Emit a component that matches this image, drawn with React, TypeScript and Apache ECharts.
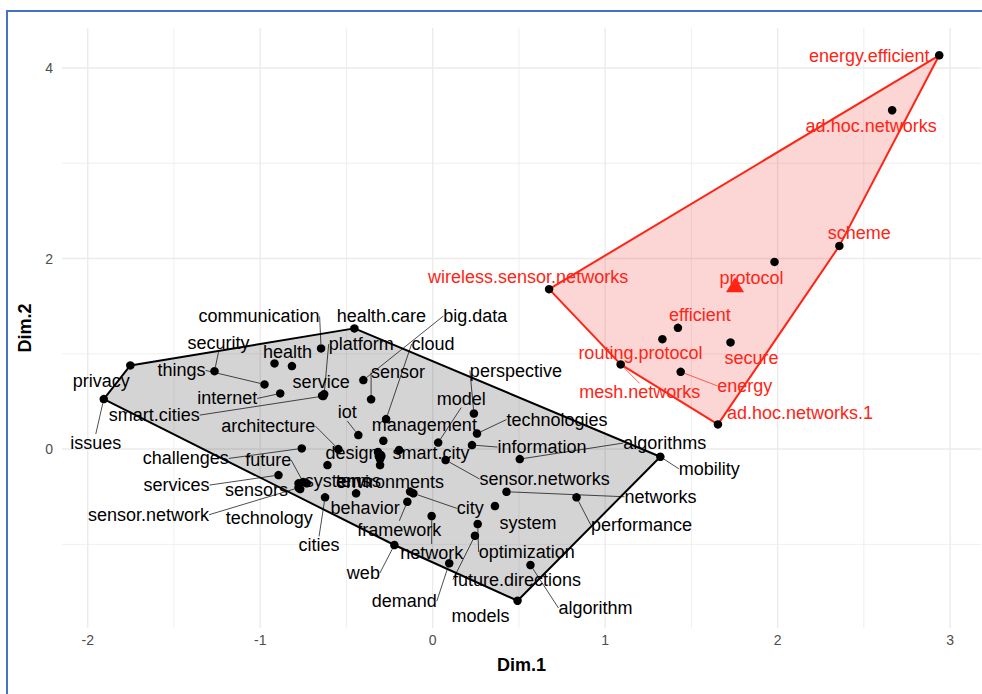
import React, { useEffect, useRef } from "react";
import * as echarts from "echarts";

// ---------- data ----------
const c1Names = [
  "privacy", "issues", "security", "things", "internet", "health", "", "communication",
  "health.care", "platform", "service", "smart.cities", "big.data", "sensor", "cloud", "iot",
  "architecture", "management", "model", "perspective", "technologies", "information", "algorithms", "mobility",
  "sensor.networks", "smart.city", "design", "", "", "challenges", "future", "services",
  "systems", "sensors", "sensor.network", "technology", "terms", "environments", "cities", "behavior",
  "framework", "city", "network", "web", "demand", "networks", "performance", "system",
  "optimization", "future.directions", "algorithm", "models",
];
const c1X = [
  -1.753, -1.907, -1.265, -0.975, -0.884, -0.917, -0.816, -0.647,
  -0.454, -0.629, -0.641, -0.635, -0.402, -0.357, -0.27, -0.431,
  -0.547, -0.286, 0.032, 0.239, 0.257, 0.228, 0.505, 1.32,
  0.075, -0.195, -0.317, -0.305, -0.305, -0.759, -0.751, -0.894,
  -0.73, -0.778, -0.778, -0.768, -0.61, -0.131, -0.624, -0.444,
  -0.147, -0.112, -0.006, -0.222, 0.096, 0.428, 0.834, 0.361,
  0.261, 0.245, 0.567, 0.492,
];
const c1Y = [
  0.878, 0.525, 0.818, 0.679, 0.584, 0.899, 0.871, 1.057,
  1.267, 0.577, 0.561, 0.556, 0.724, 0.522, 0.315, 0.147,
  0.0, 0.087, 0.068, 0.373, 0.163, 0.042, -0.105, -0.081,
  -0.115, -0.01, -0.031, -0.105, -0.168, 0.007, -0.346, -0.273,
  -0.36, -0.36, -0.406, -0.42, -0.168, -0.446, -0.507, -0.465,
  -0.553, -0.465, -0.703, -1.007, -1.199, -0.448, -0.507, -0.598,
  -0.787, -0.91, -1.217, -1.592,
];

const c2Names = [
  "energy.efficient", "ad.hoc.networks", "scheme", "protocol", "wireless.sensor.networks", "efficient",
  "routing.protocol", "secure", "mesh.networks", "energy", "ad.hoc.networks.1",
];
const c2X = [2.937, 2.664, 2.358, 1.982, 0.675, 1.422, 1.332, 1.727, 1.09, 1.438, 1.654];
const c2Y = [4.134, 3.557, 2.133, 1.965, 1.679, 1.273, 1.154, 1.12, 0.889, 0.811, 0.259];

const centerX = [-0.305, 1.753];
const centerY = [-0.073, 1.725];

const xBreaks = [-2, -1, 0, 1, 2, 3];
const xMinorBreaks = [-1.5, -0.5, 0.5, 1.5, 2.5];
const yBreaks = [0, 2, 4];
const yMinorBreaks = [-1, 1, 3];

// ---------- label layout (pixel offsets of label centre from its point; 1 = draw segment) ----------
const labelOffsets: Record<string, [number, number, number]> = {
  privacy: [-29, 16, 0], issues: [-8, 44, 1], security: [4, -28, 1], things: [-83, -14, 1],
  internet: [-53, 5, 1], health: [13, -11, 0], communication: [-62, -32, 1], "health.care": [27, -12, 0],
  platform: [37, -50, 1], service: [-1, -14, 0], "smart.cities": [-169, 19, 1], "big.data": [112, -64, 1],
  sensor: [27, -27, 1], cloud: [47, -75, 1], iot: [-11, -23, 1], architecture: [-70, -23, 1],
  management: [41, -16, 0], model: [23, -44, 1], perspective: [42, -43, 1], technologies: [80, -14, 1],
  information: [70, 2, 1], algorithms: [145, -16, 1], mobility: [49, 12, 1], "sensor.networks": [99, 19, 1],
  "smart.city": [32, 3, 0], design: [-26, 1, 0], challenges: [-116, 10, 1], future: [-35, -22, 1],
  services: [-102, 10, 1], systems: [31, -2, 0], sensors: [-42, 7, 0], "sensor.network": [-150, 27, 1],
  technology: [-31, 29, 0], terms: [31, 16, 0], environments: [-20, -10, 0], cities: [-6, 48, 1],
  behavior: [9, 15, 0], framework: [-8, 28, 1], city: [57, 15, 1], network: [0, 37, 1],
  web: [-31, 28, 1], demand: [-45, 38, 1], networks: [154, 5, 1], performance: [65, 28, 1],
  system: [33, 17, 0], optimization: [49, 28, 1], "future.directions": [42, 44, 1], algorithm: [65, 43, 1],
  models: [-37, 15, 0],
  "energy.efficient": [-70, 1, 0], "ad.hoc.networks": [-21, 16, 0], scheme: [20, -13, 0],
  protocol: [-23, 16, 0], "wireless.sensor.networks": [-21, -12, 0], efficient: [22, -13, 0],
  "routing.protocol": [-22, 14, 0], secure: [21, 16, 0], "mesh.networks": [19, 28, 1],
  energy: [64, 14, 1], "ad.hoc.networks.1": [82, -11, 0],
};

const RED = "#ff2414";
const FONT = "'Liberation Sans', Arial, Helvetica, sans-serif";

function hull(pts: number[][]): number[][] {
  const p = pts.slice().sort((a, b) => (a[0] - b[0]) || (a[1] - b[1]));
  const cross = (o: number[], a: number[], b: number[]) =>
    (a[0] - o[0]) * (b[1] - o[1]) - (a[1] - o[1]) * (b[0] - o[0]);
  const lower: number[][] = [];
  for (const q of p) {
    while (lower.length >= 2 && cross(lower[lower.length - 2], lower[lower.length - 1], q) <= 0) lower.pop();
    lower.push(q);
  }
  const upper: number[][] = [];
  for (let i = p.length - 1; i >= 0; i--) {
    const q = p[i];
    while (upper.length >= 2 && cross(upper[upper.length - 2], upper[upper.length - 1], q) <= 0) upper.pop();
    upper.push(q);
  }
  upper.pop();
  lower.pop();
  return lower.concat(upper);
}

export default function App() {
  const ref = useRef<HTMLDivElement>(null);
  useEffect(() => {
    if (!ref.current) return;
    const chart = echarts.init(ref.current, undefined, { renderer: "svg" });

    const pts1 = c1X.map((x, i) => [x, c1Y[i]]);
    const pts2 = c2X.map((x, i) => [x, c2Y[i]]);
    const hulls = [hull(pts1), hull(pts2)];

    const allX = c1X.concat(c2X);
    const allY = c1Y.concat(c2Y);
    const xr = Math.max(...allX) - Math.min(...allX);
    const yr = Math.max(...allY) - Math.min(...allY);
    const xMin = Math.min(...allX) - 0.05 * xr;
    const xMax = Math.max(...allX) + 0.05 * xr;
    const yMin = Math.min(...allY) - 0.05 * yr;
    const yMax = Math.max(...allY) + 0.05 * yr;

    const gridData: number[][] = [];
    xBreaks.forEach((v) => gridData.push([v, 0, 1]));
    xMinorBreaks.forEach((v) => gridData.push([v, 0, 0]));
    yBreaks.forEach((v) => gridData.push([v, 1, 1]));
    yMinorBreaks.forEach((v) => gridData.push([v, 1, 0]));

    const mkItems = (names: string[], xs: number[], ys: number[]) =>
      names.map((n, i) => ({
        name: n,
        value: [xs[i], ys[i]],
        label: { show: n !== "" },
        labelLine: { show: !!(labelOffsets[n] && labelOffsets[n][2]) },
      }));

    const layoutFor = (names: string[]) => (p: any) => {
      const o = labelOffsets[names[p.dataIndex]];
      if (!o) return {};
      return { dx: o[0], dy: o[1] };
    };

    const labelBase = {
      show: true,
      formatter: "{b}",
      position: "inside",
      fontSize: 18,
      fontFamily: FONT,
      textBorderWidth: 0,
      textBorderColor: "transparent",
      textShadowBlur: 0,
      opacity: 1,
    };

    chart.setOption({
      animation: false,
      backgroundColor: "#ffffff",
      grid: { left: 62, right: 1, top: 28, bottom: 66, containLabel: false },
      xAxis: {
        type: "value",
        min: xMin,
        max: xMax,
        axisLine: { show: false },
        axisTick: { show: false },
        splitLine: { show: false },
        axisLabel: {
          customValues: xBreaks,
          formatter: (v: number) => String(Math.round(v)),
          color: "#4d4d4d",
          fontSize: 14,
          fontFamily: FONT,
          margin: 5,
        },
        name: "Dim.1",
        nameLocation: "middle",
        nameGap: 28,
        nameTextStyle: { fontWeight: "bold", fontSize: 18, color: "#000", fontFamily: FONT },
      },
      yAxis: {
        type: "value",
        min: yMin,
        max: yMax,
        axisLine: { show: false },
        axisTick: { show: false },
        splitLine: { show: false },
        axisLabel: {
          customValues: yBreaks,
          formatter: (v: number) => String(Math.round(v)),
          color: "#4d4d4d",
          fontSize: 14,
          fontFamily: FONT,
          margin: 9,
        },
        name: "Dim.2",
        nameLocation: "middle",
        nameGap: 24,
        nameTextStyle: { fontWeight: "bold", fontSize: 18, color: "#000", fontFamily: FONT },
      },
      series: [
        {
          type: "custom",
          silent: true,
          z: 0,
          data: gridData,
          encode: { x: 0, y: -1 },
          renderItem: (params: any, api: any) => {
            const cs = params.coordSys;
            const v = api.value(0);
            const orient = api.value(1);
            const major = api.value(2);
            const style = { stroke: "#ebebeb", lineWidth: major ? 1.4 : 0.8 };
            if (orient === 0) {
              const x = api.coord([v, 0])[0];
              return { type: "line", shape: { x1: x, y1: cs.y, x2: x, y2: cs.y + cs.height }, style };
            }
            const y = api.coord([0, v])[1];
            return { type: "line", shape: { x1: cs.x, y1: y, x2: cs.x + cs.width, y2: y }, style };
          },
        },
        {
          type: "custom",
          silent: true,
          z: 1,
          data: [[0, 0], [1, 0]],
          renderItem: (params: any, api: any) => {
            const idx = params.dataIndex;
            const points = hulls[idx].map((p) => api.coord(p));
            return {
              type: "polygon",
              shape: { points },
              style: idx === 0
                ? { fill: "rgba(0,0,0,0.17)", stroke: "#000", lineWidth: 2, lineJoin: "round" }
                : { fill: "rgba(240,20,20,0.18)", stroke: RED, lineWidth: 2, lineJoin: "round" },
            };
          },
        },
        {
          type: "scatter",
          name: "cluster1",
          z: 3,
          symbol: "circle",
          symbolSize: 8.5,
          itemStyle: { color: "#000", opacity: 1 },
          data: mkItems(c1Names, c1X, c1Y),
          label: { ...labelBase, color: "#000" },
          labelLine: { show: true, lineStyle: { color: "#000", width: 0.7 } },
          labelLayout: layoutFor(c1Names),
        },
        {
          type: "scatter",
          name: "cluster2",
          z: 3,
          symbol: "circle",
          symbolSize: 8.5,
          itemStyle: { color: "#000", opacity: 1 },
          data: mkItems(c2Names, c2X, c2Y),
          label: { ...labelBase, color: RED },
          labelLine: { show: true, lineStyle: { color: RED, width: 0.7 } },
          labelLayout: layoutFor(c2Names),
        },
        {
          type: "scatter",
          z: 4,
          silent: true,
          symbol: "circle",
          symbolSize: 11,
          itemStyle: { color: "#000", opacity: 1 },
          data: [[centerX[0], centerY[0]]],
        },
        {
          type: "scatter",
          z: 4,
          silent: true,
          symbol: "triangle",
          symbolSize: [18, 15],
          itemStyle: { color: RED, opacity: 1 },
          data: [[centerX[1], centerY[1]]],
        },
      ],
    });
    return () => chart.dispose();
  }, []);

  return (
    <div style={{ position: "fixed", left: 0, top: 0, width: 982, height: 694, background: "#fff" }}>
      <div ref={ref} style={{ position: "absolute", left: 0, top: 0, width: 982, height: 694 }} />
      <div
        style={{
          position: "absolute",
          left: 6,
          top: 10,
          width: 976,
          height: 684,
          borderLeft: "2px solid #4472c4",
          borderTop: "2px solid #4472c4",
          pointerEvents: "none",
          boxSizing: "border-box",
        }}
      />
    </div>
  );
}
